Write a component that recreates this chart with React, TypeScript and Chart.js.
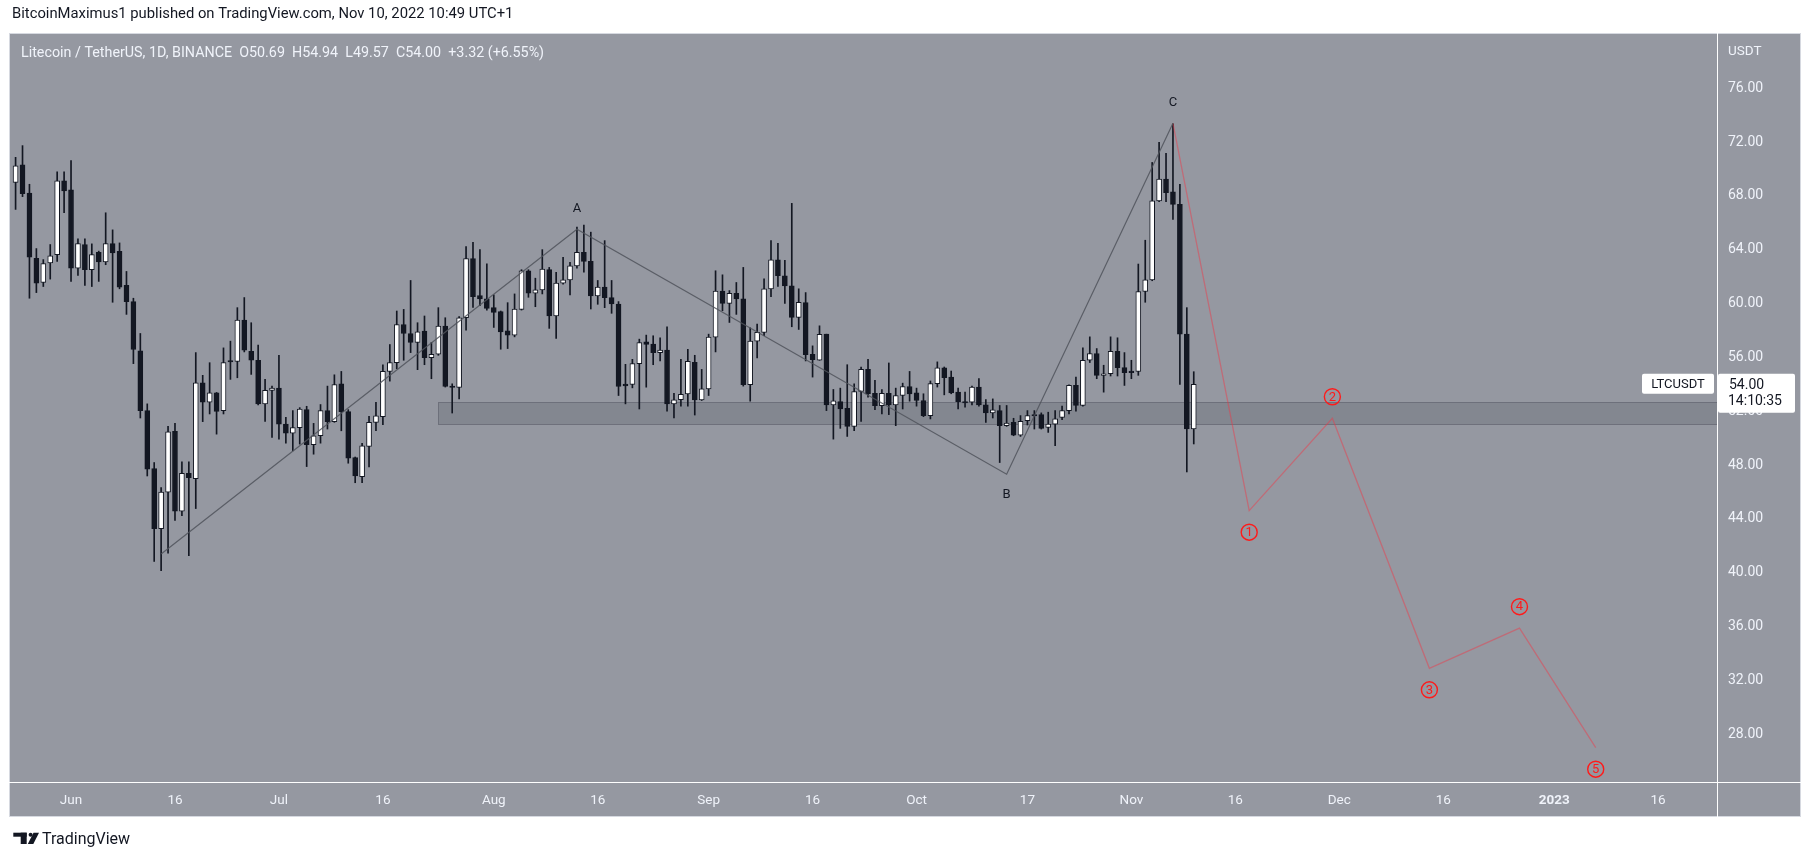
import { useEffect, useRef } from "react"
import { Chart, registerables } from "chart.js"

Chart.register(...registerables)

const W = 1814
const H = 861

// daily candles [open, high, low, close], first candle is May 24, 2022
// x values are days counted from Jun 1, 2022
const firstDay = -8

const mayCandles = [
  [69.0, 70.87, 67.0, 70.24],
  [70.32, 71.74, 67.95, 68.17],
  [68.22, 68.87, 60.4, 63.46],
  [63.36, 64.09, 60.82, 61.52],
  [61.57, 63.27, 61.27, 62.97],
  [63.02, 64.39, 61.82, 63.56],
  [63.64, 69.79, 63.14, 69.12],
  [69.12, 69.79, 66.75, 68.37],
]

const junCandles = [
  [68.45, 70.62, 61.65, 62.64],
  [62.64, 64.81, 62.09, 64.46],
  [64.39, 64.81, 61.35, 62.52],
  [62.52, 64.44, 61.27, 63.64],
  [63.81, 63.9, 61.65, 63.09],
  [63.09, 66.75, 62.89, 64.46],
  [64.46, 65.48, 60.1, 63.76],
  [63.89, 64.51, 61.1, 61.22],
  [61.35, 62.39, 59.2, 60.15],
  [60.15, 60.4, 55.54, 56.59],
  [56.49, 57.78, 51.5, 52.05],
  [52.05, 52.55, 47.19, 47.69],
  [47.74, 48.19, 40.84, 43.28],
  [43.28, 46.32, 40.16, 45.99],
  [45.99, 50.88, 41.46, 50.48],
  [50.5, 51.1, 43.88, 44.57],
  [44.57, 48.24, 44.25, 47.39],
  [47.39, 48.24, 41.26, 47.07],
  [46.99, 56.36, 44.77, 54.12],
  [54.12, 54.67, 51.23, 52.67],
  [52.67, 55.61, 51.8, 53.37],
  [53.37, 53.4, 50.3, 51.98],
  [52.05, 56.71, 51.8, 55.61],
  [55.76, 57.21, 54.37, 55.66],
  [55.71, 59.7, 54.49, 58.78],
  [58.78, 60.45, 56.41, 56.54],
  [56.46, 58.58, 54.74, 55.79],
  [55.79, 56.91, 52.47, 52.55],
  [52.55, 54.37, 51.25, 53.55],
  [53.55, 53.87, 50.06, 53.72],
]

const julCandles = [
  [53.72, 56.16, 49.93, 51.05],
  [51.05, 51.55, 49.63, 50.38],
  [50.38, 52.05, 49.06, 50.78],
  [50.78, 52.27, 49.56, 52.17],
  [52.12, 52.37, 47.89, 49.51],
  [49.51, 51.1, 48.81, 50.18],
  [50.18, 52.5, 49.63, 52.05],
  [52.05, 53.87, 50.68, 51.23],
  [51.23, 54.71, 51.18, 53.99],
  [54.04, 54.96, 50.55, 51.97],
  [51.97, 52.12, 48.14, 48.51],
  [48.56, 48.6, 46.69, 47.19],
  [47.14, 49.61, 46.69, 49.43],
  [49.38, 51.62, 47.86, 51.18],
  [51.18, 52.67, 50.55, 51.67],
  [51.6, 55.46, 51.0, 54.96],
  [54.96, 56.96, 54.24, 55.61],
  [55.61, 59.45, 55.16, 58.45],
  [58.45, 59.57, 55.79, 57.78],
  [57.78, 61.72, 56.36, 57.11],
  [57.11, 58.58, 55.09, 57.9],
  [57.95, 59.08, 55.46, 55.99],
  [55.99, 57.11, 54.42, 56.24],
  [56.24, 59.7, 56.16, 58.33],
  [58.33, 58.95, 53.8, 53.84],
  [53.87, 54.04, 51.87, 53.77],
  [53.77, 59.03, 52.92, 58.95],
  [58.95, 64.24, 58.03, 63.34],
  [63.34, 64.56, 59.72, 60.52],
  [60.6, 64.01, 59.85, 60.35],
  [60.35, 62.96, 59.52, 59.65],
]

const augCandles = [
  [59.7, 60.65, 58.23, 59.35],
  [59.4, 59.45, 56.61, 57.9],
  [57.98, 60.07, 56.66, 57.66],
  [57.66, 60.72, 57.53, 59.6],
  [59.57, 62.52, 59.52, 62.44],
  [62.44, 62.52, 60.47, 60.77],
  [60.77, 61.89, 59.77, 61.02],
  [61.02, 64.01, 60.72, 62.57],
  [62.52, 62.69, 58.16, 59.08],
  [59.08, 62.32, 57.41, 61.52],
  [61.52, 63.44, 61.44, 61.77],
  [61.77, 63.06, 60.65, 62.81],
  [62.81, 65.68, 62.64, 63.81],
  [63.81, 65.83, 62.34, 63.14],
  [63.14, 65.31, 59.6, 60.57],
  [60.57, 61.72, 59.95, 61.22],
  [61.22, 64.68, 59.7, 60.45],
  [60.45, 61.72, 59.28, 59.97],
  [59.97, 60.15, 53.17, 53.84],
  [54.02, 55.49, 52.55, 53.89],
  [53.99, 55.86, 53.74, 55.54],
  [55.54, 57.36, 52.17, 57.11],
  [57.16, 57.66, 53.79, 56.96],
  [56.99, 57.61, 55.46, 56.36],
  [56.36, 57.46, 55.74, 56.54],
  [56.54, 58.28, 52.0, 52.55],
  [52.55, 53.34, 51.5, 52.85],
  [52.87, 55.86, 52.37, 53.25],
  [53.29, 56.61, 52.37, 55.71],
  [55.64, 56.16, 51.72, 52.85],
  [52.85, 55.11, 52.8, 53.67],
]

const sepCandles = [
  [53.67, 57.73, 53.17, 57.51],
  [57.51, 62.44, 56.41, 60.94],
  [60.94, 62.14, 59.47, 60.02],
  [60.02, 60.97, 58.6, 60.77],
  [60.77, 61.57, 59.2, 60.35],
  [60.35, 62.69, 53.87, 53.97],
  [53.97, 58.2, 52.75, 57.21],
  [57.21, 58.48, 55.96, 57.86],
  [57.86, 61.84, 57.61, 61.1],
  [61.1, 64.68, 60.52, 63.26],
  [63.26, 64.48, 61.27, 62.07],
  [62.07, 63.21, 60.02, 61.32],
  [61.32, 67.45, 58.28, 58.98],
  [58.98, 61.1, 58.08, 60.1],
  [60.07, 60.82, 55.74, 56.21],
  [56.24, 56.86, 54.54, 55.84],
  [55.79, 58.35, 55.79, 57.71],
  [57.73, 57.73, 52.05, 52.47],
  [52.47, 53.62, 49.93, 52.77],
  [52.72, 53.72, 50.73, 52.17],
  [52.22, 55.46, 50.13, 50.88],
  [50.88, 54.04, 50.55, 53.47],
  [53.47, 55.29, 51.25, 55.11],
  [55.11, 55.86, 53.05, 53.29],
  [53.34, 54.29, 52.12, 52.42],
  [52.42, 53.62, 51.8, 53.34],
  [53.34, 55.59, 51.75, 52.47],
  [52.47, 53.72, 50.93, 53.17],
  [53.17, 54.09, 52.17, 53.84],
  [53.84, 54.96, 52.75, 53.29],
]

const octCandles = [
  [53.37, 53.72, 52.38, 52.8],
  [52.8, 53.3, 51.6, 51.68],
  [51.68, 54.25, 51.43, 54.05],
  [54.05, 55.67, 53.8, 55.22],
  [55.22, 55.29, 53.22, 54.49],
  [54.54, 54.99, 53.3, 53.37],
  [53.42, 53.72, 52.18, 52.72],
  [52.72, 53.42, 52.3, 52.62],
  [52.67, 53.87, 52.48, 53.8],
  [53.8, 54.42, 52.38, 52.48],
  [52.48, 52.87, 51.18, 51.88],
  [51.88, 52.92, 51.5, 52.1],
  [52.05, 52.43, 48.19, 50.93],
  [50.93, 52.43, 50.88, 51.13],
  [51.18, 51.48, 50.18, 50.23],
  [50.23, 51.68, 50.13, 51.25],
  [51.3, 52.05, 50.98, 51.68],
  [51.75, 52.05, 50.68, 51.65],
  [51.75, 51.88, 50.68, 50.73],
  [50.8, 51.93, 50.43, 51.05],
  [51.05, 52.05, 49.44, 51.43],
  [51.55, 52.38, 51.38, 52.05],
  [52.05, 53.97, 51.8, 53.92],
  [53.92, 54.54, 52.0, 52.43],
  [52.43, 56.71, 52.38, 55.79],
  [55.79, 57.53, 55.62, 56.29],
  [56.29, 56.66, 54.42, 54.67],
  [54.67, 55.42, 53.42, 54.79],
  [54.79, 57.53, 54.62, 56.46],
  [56.46, 57.46, 54.62, 55.24],
  [55.24, 56.36, 53.92, 54.87],
]

const novCandles = [
  [54.99, 55.79, 54.42, 54.87],
  [54.97, 62.94, 54.67, 60.9],
  [60.9, 64.71, 60.1, 61.77],
  [61.77, 70.49, 61.7, 67.63],
  [67.63, 71.99, 67.58, 69.25],
  [69.25, 71.17, 67.58, 68.25],
  [68.3, 73.36, 66.26, 67.38],
  [67.38, 68.87, 54.0, 57.73],
  [57.73, 59.7, 47.49, 50.69],
  [50.69, 54.94, 49.57, 54.0],
]

const candles = [
  ...mayCandles,
  ...junCandles,
  ...julCandles,
  ...augCandles,
  ...sepCandles,
  ...octCandles,
  ...novCandles,
]

const xTickDays = [0, 15, 30, 45, 61, 76, 92, 107, 122, 138, 153, 168, 183, 198, 214, 229]
const xTickLabels = ["Jun", "16", "Jul", "16", "Aug", "16", "Sep", "16", "Oct", "17", "Nov", "16", "Dec", "16", "2023", "16"]
const yTicks = [28, 32, 36, 40, 44, 48, 52, 56, 60, 64, 68, 72, 76]

// A-B-C correction drawn over the candles
const abcDays = [13, 73, 135, 159]
const abcValues = [41.4, 65.52, 47.32, 73.4]
const abcLabels = ["", "A", "B", "C"]
const abcSides = [0, -1, 1, -1]

// projected 1-5 wave count
const waveDays = [159, 170, 182, 196, 209, 220]
const waveValues = [73.4, 44.61, 51.48, 32.9, 35.88, 27.0]
const waveLabels = ["", "1", "2", "3", "4", "5"]
const waveSides = [0, 1, -1, 1, -1, 1]

// horizontal support zone
const zoneStartDay = 53
const zoneTop = 52.67
const zoneBottom = 51.03

const lastPrice = 54.0
const countdown = "14:10:35"

const X_MIN = -8.95
const X_MAX = 237.5
const Y_MIN = 24.45
const Y_MAX = 80.11

const BG = "#9598a1"
const TEXT_LIGHT = "#f0f3fa"
const DARK = "#131722"
const FONT = "Roboto, 'Noto Sans', sans-serif"

const decor = {
  id: "decor",
  beforeDraw(chart: Chart) {
    const ctx = chart.ctx
    ctx.save()
    ctx.fillStyle = "#ffffff"
    ctx.fillRect(0, 0, W, H)
    ctx.fillStyle = BG
    ctx.fillRect(9, 33, 1792, 784)
    ctx.strokeStyle = "#d6d9e0"
    ctx.lineWidth = 1
    ctx.strokeRect(9.5, 33.5, 1791, 783)
    ctx.restore()
  },
  beforeDatasetsDraw(chart: Chart) {
    const { ctx, chartArea } = chart
    const x = chart.scales.x
    const y = chart.scales.y
    const left = x.getPixelForValue(zoneStartDay)
    const top = y.getPixelForValue(zoneTop)
    const bottom = y.getPixelForValue(zoneBottom)
    ctx.save()
    ctx.fillStyle = "rgba(120, 123, 134, 0.6)"
    ctx.fillRect(left, top, chartArea.right - left, bottom - top)
    ctx.strokeStyle = "rgba(106, 109, 120, 0.9)"
    ctx.lineWidth = 1
    ctx.strokeRect(Math.round(left) + 0.5, Math.round(top) + 0.5, chartArea.right - Math.round(left), Math.round(bottom - top))
    ctx.restore()
  },
  afterDraw(chart: Chart) {
    const { ctx, chartArea } = chart
    const x = chart.scales.x
    const y = chart.scales.y
    ctx.save()

    // axis separators
    ctx.strokeStyle = "#ffffff"
    ctx.lineWidth = 1
    ctx.beginPath()
    ctx.moveTo(chartArea.right + 0.5, 33)
    ctx.lineTo(chartArea.right + 0.5, 817)
    ctx.moveTo(9, chartArea.bottom + 0.5)
    ctx.lineTo(1801, chartArea.bottom + 0.5)
    ctx.stroke()

    // header and legend
    ctx.textBaseline = "middle"
    ctx.textAlign = "left"
    ctx.fillStyle = DARK
    ctx.font = `14.8px ${FONT}`
    ctx.fillText("BitcoinMaximus1 published on TradingView.com, Nov 10, 2022 10:49 UTC+1", 12, 14)
    ctx.fillStyle = TEXT_LIGHT
    ctx.font = `14.3px ${FONT}`
    ctx.fillText("Litecoin / TetherUS, 1D, BINANCE  O50.69  H54.94  L49.57  C54.00  +3.32 (+6.55%)", 21, 53)
    ctx.font = `13.5px ${FONT}`
    ctx.fillText("USDT", 1728, 52)

    // A B C labels
    ctx.fillStyle = DARK
    ctx.textAlign = "center"
    ctx.font = `13px ${FONT}`
    abcLabels.forEach((t, i) => {
      if (!t) return
      const px = x.getPixelForValue(abcDays[i])
      const py = y.getPixelForValue(abcValues[i]) + abcSides[i] * 21
      ctx.fillText(t, px, py)
    })

    // wave count circles
    ctx.strokeStyle = "#ff1a1a"
    ctx.fillStyle = "#ff1a1a"
    ctx.lineWidth = 1.4
    waveLabels.forEach((t, i) => {
      if (!t) return
      const px = x.getPixelForValue(waveDays[i])
      const py = y.getPixelForValue(waveValues[i]) + waveSides[i] * 21.5
      ctx.beginPath()
      ctx.arc(px, py, 8, 0, Math.PI * 2)
      ctx.stroke()
      ctx.font = `13px ${FONT}`
      ctx.fillText(t, px, py + 0.5)
    })

    // last price labels
    const py = y.getPixelForValue(lastPrice)
    ctx.fillStyle = "#ffffff"
    ctx.beginPath()
    ctx.roundRect(1642, py - 10.5, 72, 20, 2)
    ctx.fill()
    ctx.beginPath()
    ctx.roundRect(chartArea.right + 1, py - 10.5, 77, 39, 2)
    ctx.fill()
    ctx.fillStyle = DARK
    ctx.font = `13px ${FONT}`
    ctx.textAlign = "center"
    ctx.fillText("LTCUSDT", 1678, py)
    ctx.textAlign = "left"
    ctx.font = `14px ${FONT}`
    ctx.fillText(lastPrice.toFixed(2), 1729, py + 1)
    ctx.fillText(countdown, 1728, py + 17.5)

    // footer
    ctx.fillStyle = DARK
    ctx.fillRect(13.3, 832.7, 13.4, 4)
    ctx.fillRect(20.7, 832.7, 6, 11.3)
    ctx.beginPath()
    ctx.arc(30.6, 834.8, 2, 0, Math.PI * 2)
    ctx.fill()
    ctx.beginPath()
    ctx.moveTo(33.5, 832.7)
    ctx.lineTo(39, 832.7)
    ctx.lineTo(33.3, 844)
    ctx.lineTo(27.8, 844)
    ctx.closePath()
    ctx.fill()
    ctx.font = `16px ${FONT}`
    ctx.fillText("TradingView", 42, 839.5)

    ctx.restore()
  },
}

export default function App() {
  const chartRef = useRef<HTMLCanvasElement>(null)
  const chartInstance = useRef<Chart | null>(null)

  useEffect(() => {
    document.body.style.margin = "0"
    document.body.style.overflow = "hidden"
    if (!chartRef.current) return

    if (chartInstance.current) {
      chartInstance.current.destroy()
    }

    const bodyData = candles.map((c, i) => ({ x: firstDay + i, y: [c[0], c[3]] }))
    const wickData = candles.map((c, i) => ({ x: firstDay + i, y: [c[2], c[1]] }))
    const bodyColors = candles.map((c) => (c[3] >= c[0] ? "#ffffff" : DARK))

    chartInstance.current = new Chart(chartRef.current, {
      type: "bar",
      data: {
        datasets: [
          {
            type: "line",
            data: abcDays.map((d, i) => ({ x: d, y: abcValues[i] })),
            borderColor: "rgba(80, 83, 92, 0.85)",
            borderWidth: 1.2,
            pointRadius: 0,
            fill: false,
            order: 0,
          },
          {
            type: "line",
            data: waveDays.map((d, i) => ({ x: d, y: waveValues[i] })),
            borderColor: "rgba(242, 54, 69, 0.45)",
            borderWidth: 1.3,
            pointRadius: 0,
            fill: false,
            order: 0,
          },
          {
            type: "bar",
            data: bodyData as any,
            backgroundColor: bodyColors,
            borderColor: DARK,
            borderWidth: 1,
            borderSkipped: false,
            barThickness: 5,
            grouped: false,
            order: 1,
          },
          {
            type: "bar",
            data: wickData as any,
            backgroundColor: DARK,
            borderWidth: 0,
            barThickness: 1,
            grouped: false,
            order: 2,
          },
        ],
      } as any,
      options: {
        responsive: false,
        animation: false,
        events: [],
        layout: { padding: { left: 9, top: 33, right: 13, bottom: 44 } },
        plugins: {
          legend: { display: false },
          tooltip: { enabled: false },
        },
        scales: {
          x: {
            type: "linear",
            min: X_MIN,
            max: X_MAX,
            offset: false,
            grid: { display: false, drawTicks: false, offset: false },
            border: { display: false },
            afterBuildTicks: (scale: any) => {
              scale.ticks = xTickDays.map((v) => ({ value: v }))
            },
            afterFit: (scale: any) => {
              scale.height = 35
            },
            ticks: {
              autoSkip: false,
              maxRotation: 0,
              padding: 11,
              color: TEXT_LIGHT,
              font: (c: any) => ({
                family: FONT,
                size: 13.5,
                weight: xTickLabels[c.index] === "2023" ? "bold" : "normal",
              }),
              callback: (_v: any, i: number) => xTickLabels[i],
            },
          },
          y: {
            type: "linear",
            position: "right",
            min: Y_MIN,
            max: Y_MAX,
            beginAtZero: false,
            grid: { display: false, drawTicks: false },
            border: { display: false },
            afterBuildTicks: (scale: any) => {
              scale.ticks = yTicks.map((v) => ({ value: v }))
            },
            afterFit: (scale: any) => {
              scale.width = 84
            },
            ticks: {
              padding: 11,
              color: TEXT_LIGHT,
              font: { family: FONT, size: 14 },
              callback: (v: any) => Number(v).toFixed(2),
            },
          },
        },
      } as any,
      plugins: [decor as any],
    })

    return () => {
      if (chartInstance.current) {
        chartInstance.current.destroy()
        chartInstance.current = null
      }
    }
  }, [])

  return (
    <div style={{ width: W, height: H }}>
      <canvas ref={chartRef} width={W} height={H} style={{ display: "block" }} />
    </div>
  )
}
